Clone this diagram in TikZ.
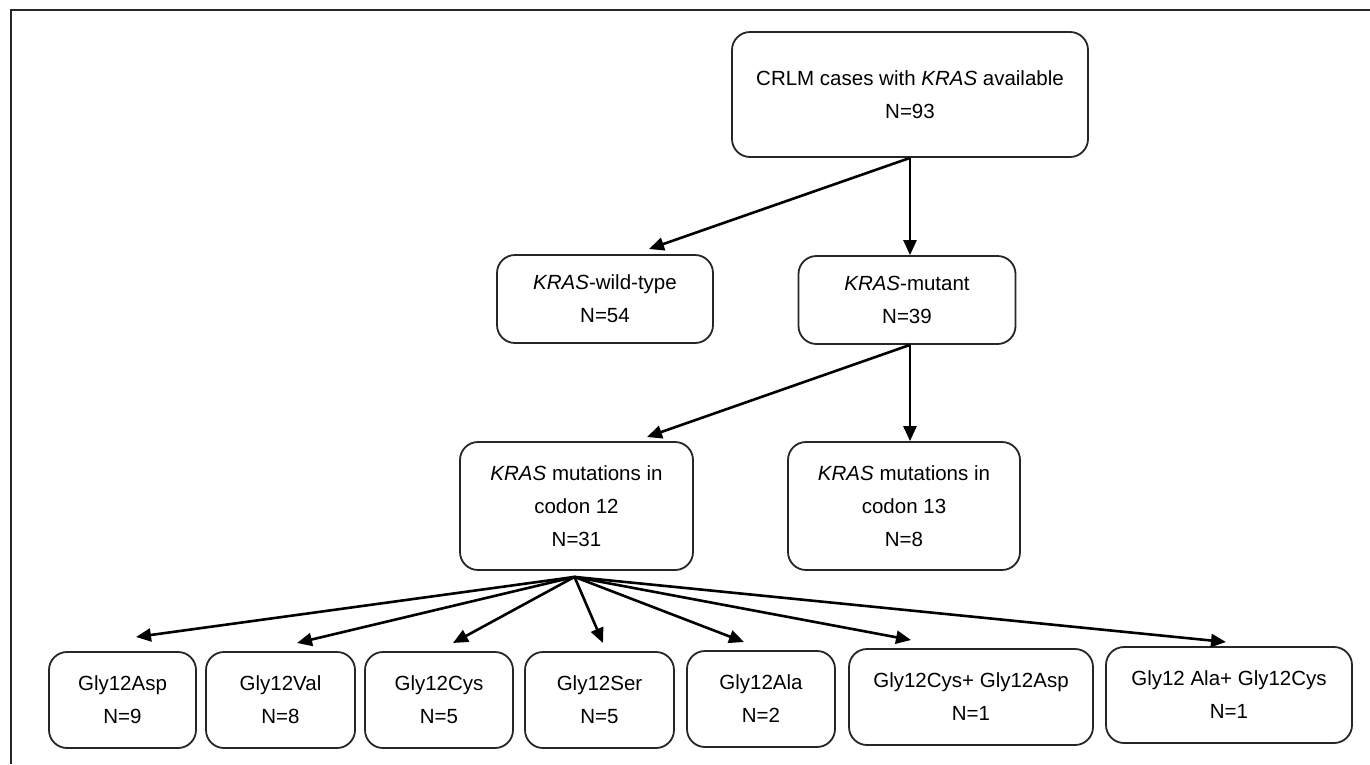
\documentclass[tikz,border=0pt]{standalone}
\usepackage{fontspec}
\setmainfont{Liberation Sans}
\usetikzlibrary{arrows.meta,calc}
\begin{document}
\begin{tikzpicture}[x=1pt,y=-1pt,
  box/.style={draw=black!85, line width=1.8pt, rounded corners=18pt, align=center,
    inner sep=0pt, font=\fontsize{20.5}{33}\selectfont},
  arr/.style={line width=2.6pt, -{Triangle[length=15pt,width=13pt]}},
  frame/.style={line width=2.2pt, draw=black!85}]
\useasboundingbox (0,0) rectangle (1370,764);
\draw[frame] (11,764) -- (11,10) -- (1370,10);
% level 0
\node[box, minimum width=356pt, minimum height=125pt] (top) at (910,94.5) {CRLM cases with \textit{KRAS} available\\N=93};
% level 1
\node[box, minimum width=216pt, minimum height=88pt] (wt) at (605,299) {\textit{KRAS}-wild-type\\N=54};
\node[box, minimum width=217pt, minimum height=88pt] (mut) at (907,300) {\textit{KRAS}-mutant\\N=39};
% level 2
\node[box, minimum width=233pt, minimum height=128pt] (c12) at (576.5,506) {\textit{KRAS} mutations in\\codon 12\\N=31};
\node[box, minimum width=232pt, minimum height=128pt] (c13) at (904,506) {\textit{KRAS} mutations in\\codon 13\\N=8};
% level 3
\node[box, minimum width=147pt, minimum height=96pt] (asp) at (122.5,700) {Gly12Asp\\N=9};
\node[box, minimum width=149pt, minimum height=96pt] (val) at (280.5,700) {Gly12Val\\N=8};
\node[box, minimum width=148pt, minimum height=96pt] (cys) at (439,700) {Gly12Cys\\N=5};
\node[box, minimum width=149pt, minimum height=96pt] (ser) at (599.5,700) {Gly12Ser\\N=5};
\node[box, minimum width=148pt, minimum height=96pt] (ala) at (761,699) {Gly12Ala\\N=2};
\node[box, minimum width=244pt, minimum height=96pt] (cysasp) at (971,697) {Gly12Cys+ Gly12Asp\\N=1};
\node[box, minimum width=246pt, minimum height=96pt] (alacys) at (1229,695) {Gly12 Ala+ Gly12Cys\\N=1};
% connector points
\coordinate (twt) at (649,249);
\coordinate (m0) at (mut.south -| top.south);
\coordinate (tc12) at (647,437);
\coordinate (apex) at ($(c12.south)+(-2,6)$);
\coordinate (tasp) at (136,637);
\coordinate (tval) at (297,643);
\coordinate (tcys) at (453,643);
\coordinate (tser) at (603,643);
\coordinate (tala) at (744,642);
\coordinate (tcysasp) at (911,640);
\coordinate (talacys) at (1226,642);
% connectors
\draw[arr] (top.south) -- (twt);
\draw[arr] (top.south) -- (top.south |- mut.north);
\draw[arr] (m0) -- (tc12);
\draw[arr] (m0) -- (m0 |- c13.north);
\foreach \t in {tasp,tval,tcys,tser,tala,tcysasp,talacys}
  \draw[arr] (apex) -- (\t);
\end{tikzpicture}
\end{document}
